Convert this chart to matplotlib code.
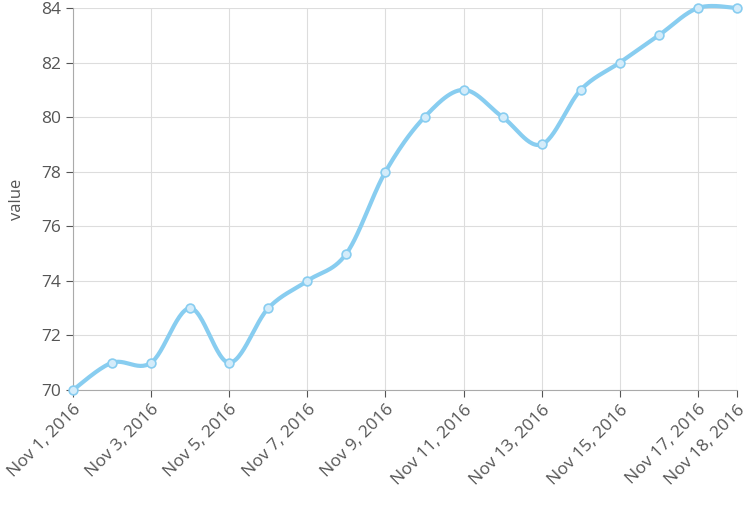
import numpy as np
import matplotlib.pyplot as plt

plt.rcParams['font.family'] = ['Open Sans', 'DejaVu Sans']

days = list(range(1, 19))
values = [70, 71, 71, 73, 71, 73, 74, 75, 78, 80, 81, 80, 79, 81, 82, 83, 84, 84]
tick_days = [1, 3, 5, 7, 9, 11, 13, 15, 17, 18]
tick_labels = [f"Nov {d}, 2016" for d in tick_days]


def catmull_rom(x, y, n=30):
    x = np.asarray(x, float)
    y = np.asarray(y, float)
    px = np.concatenate([[x[0]], x, [x[-1]]])
    py = np.concatenate([[y[0]], y, [y[-1]]])
    xs, ys = [], []
    t = np.linspace(0, 1, n)
    for i in range(1, len(px) - 2):
        for p, out in ((px, xs), (py, ys)):
            p0, p1, p2, p3 = p[i - 1], p[i], p[i + 1], p[i + 2]
            out.append(0.5 * (2 * p1 + (-p0 + p2) * t
                              + (2 * p0 - 5 * p1 + 4 * p2 - p3) * t ** 2
                              + (-p0 + 3 * p1 - 3 * p2 + p3) * t ** 3))
    return np.concatenate(xs), np.concatenate(ys)


fig = plt.figure(figsize=(7.51, 5.05), dpi=100)
ax = fig.add_axes([73 / 751, 1 - 390 / 505, (737 - 73) / 751, (390 - 8) / 505])

sx, sy = catmull_rom(days, values)
ax.plot(sx, sy, color='#88cdf0', lw=3, zorder=3, solid_capstyle='round', clip_on=False)
ax.scatter(days, values, s=40, facecolor='#d4ecfa', edgecolor='#88cdf0', lw=1.2,
           zorder=4, clip_on=False)

ax.set_xlim(1, 18)
ax.set_ylim(70, 84)
ax.set_yticks(range(70, 85, 2))
ax.set_xticks(tick_days)
ax.set_xticklabels(tick_labels, rotation=45, ha='right', rotation_mode='anchor')
ax.grid(True, color='#dddddd', lw=0.8)
ax.set_axisbelow(True)
for s in ['top', 'right']:
    ax.spines[s].set_visible(False)
ax.spines['left'].set_color('#aaaaaa')
ax.spines['bottom'].set_color('#aaaaaa')
ax.tick_params(colors='#555555', labelsize=12.5, length=5)
for lab in ax.get_xticklabels() + ax.get_yticklabels():
    lab.set_color('#555555')
ax.set_ylabel('value', color='#555555', fontsize=12, labelpad=12)

fig.savefig('out.png', dpi=100)
